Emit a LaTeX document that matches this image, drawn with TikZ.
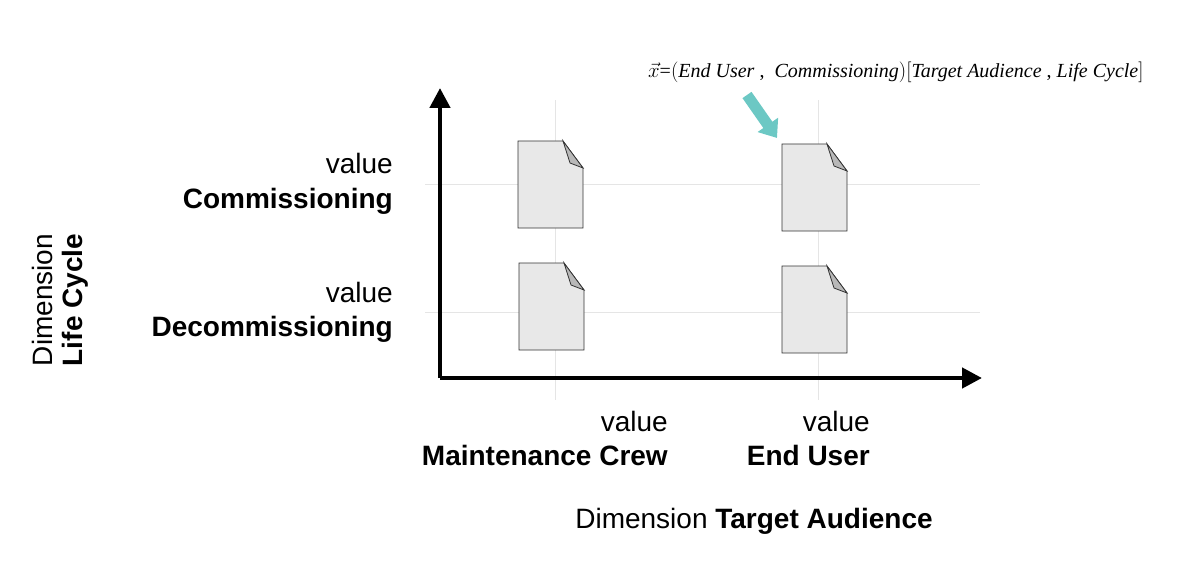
\documentclass[tikz,border=0pt]{standalone}
\usepackage{fontspec}
\setmainfont{Liberation Sans}
\newfontfamily\serifit{Liberation Serif}
\usetikzlibrary{arrows.meta}
\begin{document}
\begin{tikzpicture}[x=1pt,y=-1pt,
  lbl/.style={font=\fontsize{28}{30}\selectfont, inner sep=0},
  grid/.style={draw=black!10, line width=1pt},
  axis/.style={line width=4.5pt, -{Triangle[length=20pt,width=20pt]}},
  docfill/.style={fill=black!9, draw=black!80, line width=0.8pt}]
\useasboundingbox (0,0) rectangle (1200,575);
% grid
\draw[grid] (425,185) -- (980,185);
\draw[grid] (425,312) -- (980,312);
\draw[grid] (555,100) -- (555,400);
\draw[grid] (818,100) -- (818,400);
% axes
\coordinate (O) at (440,378);
\coordinate (Ytip) at (440,88);
\coordinate (Xtip) at (982,378);
\draw[axis] (O) -- (Ytip);
\draw[axis] (O) -- (Xtip);
% documents
\foreach \n/\x/\y in {d1/518/141, d2/782/144, d3/519/263, d4/782/266}{
  \begin{scope}[shift={(\x,\y)}]
   \draw[docfill] (0,0) -- (45,0) -- (65,27) -- (65,87) -- (0,87) -- cycle;
   \draw[fill=black!28, draw=black!80, line width=0.8pt] (45,0) -- (65,27) -- (52,22) -- cycle;
   \coordinate (\n) at (32,0);
  \end{scope}}
% labels
\node[lbl, anchor=base east] (v1) at (393,174) {value};
\node[lbl, anchor=base east] (c1) at (393,208) {\bfseries Commissioning};
\node[lbl, anchor=base east] (v2) at (393,302) {value};
\node[lbl, anchor=base east] (c2) at (393,336) {\bfseries Decommissioning};
\node[lbl, anchor=base east] (v3) at (668,431) {value};
\node[lbl, anchor=base east] (c3) at (668,465) {\bfseries Maintenance Crew};
\node[lbl, anchor=base east] (v4) at (870,431) {value};
\node[lbl, anchor=base east] (c4) at (870,465) {\bfseries End User};
\node[lbl, anchor=base] (dx) at (754,528) {Dimension \textbf{Target Audience}};
\node[lbl, anchor=base, rotate=90] (dy) at (52,300) {Dimension};
\node[lbl, anchor=base, rotate=90] (dy2) at (82,300) {\bfseries Life Cycle};
% formula
\node[inner sep=0, anchor=base west, font=\serifit\fontsize{20}{22}\selectfont] (f) at (648,78)
 {$\vec{x}$=$\bigl($\textit{End User} ,\ \ \textit{Commissioning}$\bigr)\bigl[$\textit{Target Audience} , \textit{Life Cycle}$\bigr]$};
\coordinate (as) at (747,95);
\draw[line width=11pt, draw={rgb,255:red,108;green,200;blue,196}, -{Triangle[length=16pt,width=24pt]}] (as) -- (777,138);
\end{tikzpicture}
\end{document}
